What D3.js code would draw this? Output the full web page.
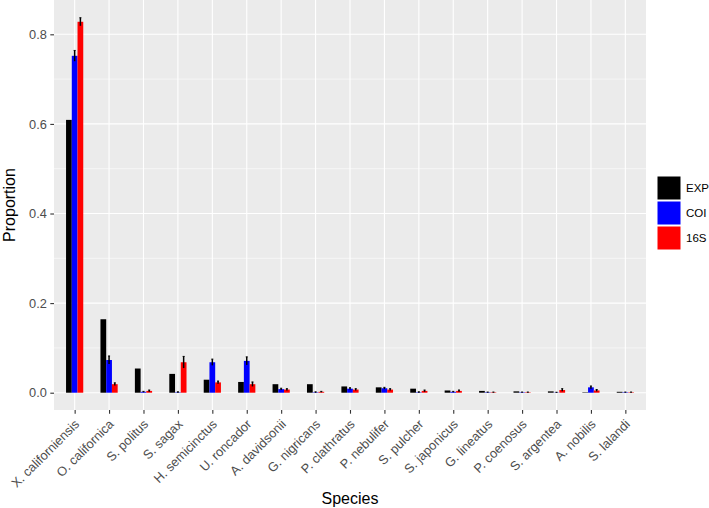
<!DOCTYPE html>
<html>
<head>
<meta charset="utf-8">
<script src="https://cdn.jsdelivr.net/npm/d3@7"></script>
<style>
  body { margin: 0; background: #fff; }
  svg { display: block; font-family: "Liberation Sans", Arial, Helvetica, sans-serif; }
</style>
</head>
<body>
<svg id="chart" width="709" height="508"></svg>
<script>
const species = ["X. californiensis","O. californica","S. politus","S. sagax","H. semicinctus","U. roncador","A. davidsonii","G. nigricans","P. clathratus","P. nebulifer","S. pulcher","S. japonicus","G. lineatus","P. coenosus","S. argentea","A. nobilis","S. lalandi"];
const seriesNames = ["EXP","COI","16S"];
const seriesColors = ["#000000","#0000ff","#ff0000"];
const expValues = [0.609,0.164,0.054,0.042,0.029,0.024,0.019,0.019,0.014,0.012,0.009,0.005,0.004,0.003,0.003,0.001,0.002];
const coiValues = [0.752,0.073,0.002,0.001,0.068,0.071,0.008,0.001,0.009,0.010,0.001,0.002,0.001,0.001,0.0005,0.012,0.001];
const coiErrors = [0.012,0.009,0.001,0.001,0.007,0.009,0.002,0.001,0.002,0.002,0.001,0.001,0.0005,0.0005,0.0005,0.003,0.0005];
const s16Values = [0.828,0.019,0.004,0.068,0.023,0.019,0.007,0.002,0.007,0.007,0.004,0.004,0.001,0.001,0.006,0.005,0.001];
const s16Errors = [0.009,0.003,0.002,0.013,0.003,0.005,0.002,0.001,0.002,0.002,0.002,0.002,0.0005,0.0005,0.003,0.002,0.0005];
const yTicks = [0, 0.2, 0.4, 0.6, 0.8];
const yMinor = [0.1, 0.3, 0.5, 0.7];

const svg = d3.select("#chart");
const panel = {left: 54, right: 646, top: 0, bottom: 410};

const x = d3.scalePoint().domain(species).range([panel.left, panel.right]).padding(0.6);
const step = x.step();
const dodge = d3.scaleBand().domain(seriesNames).range([-step*0.25, step*0.25]);
const y = d3.scaleLinear().domain([-0.0386, 0.8766]).range([panel.bottom, panel.top]);

// panel background
svg.append("rect").attr("x", panel.left).attr("y", panel.top)
  .attr("width", panel.right - panel.left).attr("height", panel.bottom - panel.top)
  .attr("fill", "#ebebeb");

// grid
const g = svg.append("g");
g.selectAll(".minor").data(yMinor).enter().append("line")
  .attr("x1", panel.left).attr("x2", panel.right)
  .attr("y1", d => y(d)).attr("y2", d => y(d))
  .attr("stroke", "#fff").attr("stroke-width", 0.55);
g.selectAll(".major").data(yTicks).enter().append("line")
  .attr("x1", panel.left).attr("x2", panel.right)
  .attr("y1", d => y(d)).attr("y2", d => y(d))
  .attr("stroke", "#fff").attr("stroke-width", 1.1);
g.selectAll(".vmajor").data(species).enter().append("line")
  .attr("x1", d => x(d)).attr("x2", d => x(d))
  .attr("y1", panel.top).attr("y2", panel.bottom)
  .attr("stroke", "#fff").attr("stroke-width", 1.1);

// bars
const rows = [];
species.forEach((s, i) => {
  rows.push({s, k: "EXP", v: expValues[i], e: null, c: seriesColors[0]});
  rows.push({s, k: "COI", v: coiValues[i], e: coiErrors[i], c: seriesColors[1]});
  rows.push({s, k: "16S", v: s16Values[i], e: s16Errors[i], c: seriesColors[2]});
});
svg.append("g").selectAll("rect").data(rows).enter().append("rect")
  .attr("x", d => x(d.s) + dodge(d.k))
  .attr("width", dodge.bandwidth())
  .attr("y", d => y(d.v))
  .attr("height", d => y(0) - y(d.v))
  .attr("fill", d => d.c);

// error bars
const errRows = rows.filter(d => d.e !== null);
const eg = svg.append("g");
eg.selectAll(".ev").data(errRows).enter().append("line")
  .attr("x1", d => x(d.s) + dodge(d.k) + dodge.bandwidth()/2)
  .attr("x2", d => x(d.s) + dodge(d.k) + dodge.bandwidth()/2)
  .attr("y1", d => y(Math.max(0, d.v - d.e)))
  .attr("y2", d => y(d.v + d.e))
  .attr("stroke", "#000").attr("stroke-width", 1.5);
eg.selectAll(".ec").data(errRows).enter().append("line")
  .attr("x1", d => x(d.s) + dodge(d.k) + dodge.bandwidth()/2 - 1)
  .attr("x2", d => x(d.s) + dodge(d.k) + dodge.bandwidth()/2 + 1)
  .attr("y1", d => y(d.v + d.e))
  .attr("y2", d => y(d.v + d.e))
  .attr("stroke", "#000").attr("stroke-width", 1);

// y axis
const yAxis = d3.axisLeft(y).tickValues(yTicks).tickFormat(d3.format(".1f")).tickSize(3.7).tickPadding(3.5);
const ya = svg.append("g").attr("transform", `translate(${panel.left},0)`).call(yAxis);
ya.select(".domain").remove();
ya.selectAll(".tick line").attr("stroke", "#333").attr("stroke-width", 1.1);
ya.selectAll(".tick text").attr("fill", "#4d4d4d").style("font-size", "12.8px");

// x axis
const xAxis = d3.axisBottom(x).tickSize(3.7).tickPadding(3);
const xa = svg.append("g").attr("transform", `translate(0,${panel.bottom})`).call(xAxis);
xa.select(".domain").remove();
xa.selectAll(".tick line").attr("stroke", "#333").attr("stroke-width", 1.1);
xa.selectAll(".tick text")
  .attr("fill", "#4d4d4d").style("font-size", "12.8px")
  .attr("text-anchor", "end")
  .attr("dy", 0).attr("y", 0)
  .attr("transform", "translate(5,15) rotate(-45)");

// axis titles
svg.append("text").attr("x", (panel.left + panel.right)/2).attr("y", 504)
  .attr("text-anchor", "middle").style("font-size", "16px").attr("fill", "#000").text("Species");
svg.append("text").attr("transform", `translate(15,${(panel.top + panel.bottom)/2}) rotate(-90)`)
  .attr("text-anchor", "middle").style("font-size", "16px").attr("fill", "#000").text("Proportion");

// legend
const lg = svg.append("g").attr("transform", "translate(657,176)");
const li = lg.selectAll("g").data(seriesNames).enter().append("g")
  .attr("transform", (d, i) => `translate(0,${i * 25})`);
li.append("rect").attr("width", 24).attr("height", 24)
  .attr("fill", (d, i) => seriesColors[i]).attr("stroke", "#fff").attr("stroke-width", 1);
li.append("text").attr("x", 29).attr("y", 12).attr("dy", "0.35em")
  .style("font-size", "11.5px").attr("fill", "#000").text(d => d);
</script>
</body>
</html>
